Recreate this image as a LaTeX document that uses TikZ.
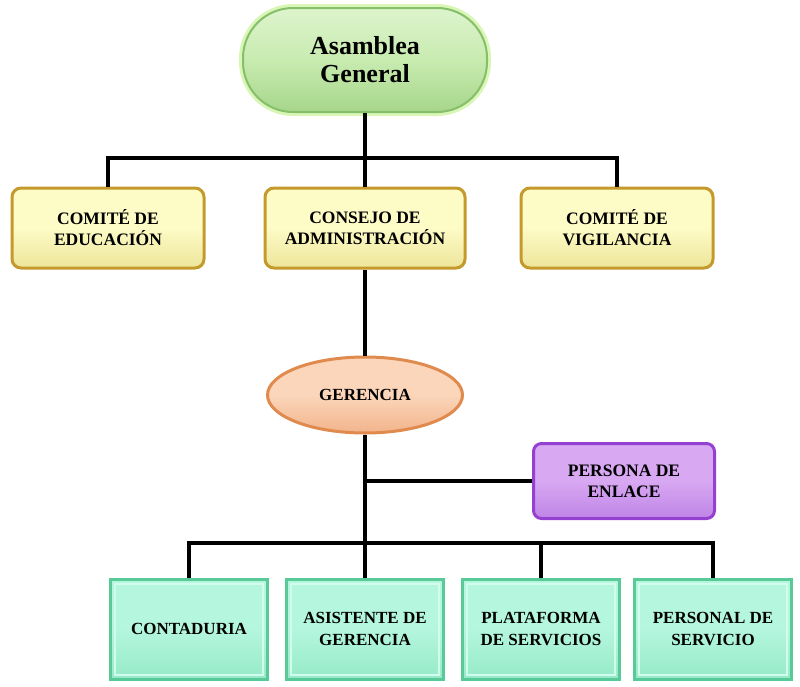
\documentclass[tikz,border=0pt]{standalone}
\usepackage{fontspec}
\setmainfont{Liberation Serif}
\usetikzlibrary{shapes.geometric,calc}
\definecolor{agfill}{HTML}{C8EBB0}
\definecolor{agtop}{HTML}{DDF4CC}
\definecolor{agbot}{HTML}{A6D68A}
\definecolor{agline}{HTML}{86BF6A}
\definecolor{agglow}{HTML}{D9F6B6}
\definecolor{ylfill}{HTML}{FDFBC6}
\definecolor{ylbot}{HTML}{EDE59A}
\definecolor{ylline}{HTML}{C49A2C}
\definecolor{orfill}{HTML}{FBD6BA}
\definecolor{orbot}{HTML}{F2B48C}
\definecolor{orline}{HTML}{E08A4E}
\definecolor{pufill}{HTML}{D8A8F2}
\definecolor{pubot}{HTML}{BE84E6}
\definecolor{puline}{HTML}{9440D0}
\definecolor{gnfill}{HTML}{B4F6DE}
\definecolor{gnbot}{HTML}{96EAC8}
\definecolor{gnline}{HTML}{58CA98}
\definecolor{gnbevel}{HTML}{D2FCEC}
\tikzset{
  conn/.style={line width=4pt, black},
  agbox/.style={draw=agline, line width=2pt, rounded corners=50pt,
    top color=agtop, bottom color=agbot, middle color=agfill,
    minimum width=244pt, minimum height=104pt, align=center,
    font=\fontsize{26}{28}\selectfont\bfseries,
    preaction={draw=agglow, line width=8pt}},
  ylbox/.style={draw=ylline, line width=3pt, rounded corners=9pt,
    top color=ylfill, bottom color=ylbot, middle color=ylfill,
    minimum height=80pt, align=center,
    font=\fontsize{17.5}{21}\selectfont\bfseries},
  orell/.style={ellipse, draw=orline, line width=3pt,
    top color=orfill, bottom color=orbot, middle color=orfill,
    minimum width=195pt, minimum height=76pt, align=center,
    font=\fontsize{17}{20}\selectfont\bfseries},
  pubox/.style={draw=puline, line width=3pt, rounded corners=8pt,
    top color=pufill, bottom color=pubot, middle color=pufill,
    minimum width=181pt, minimum height=75pt, align=center,
    font=\fontsize{17.5}{21}\selectfont\bfseries},
  gnbox/.style={draw=gnline, line width=3pt,
    top color=gnfill, bottom color=gnbot, middle color=gnfill,
    minimum width=157pt, minimum height=100pt, align=center,
    font=\fontsize{17}{22}\selectfont\bfseries},
  bevel/.style={draw=gnbevel, line width=2pt}
}
\begin{document}
\begin{tikzpicture}[x=1pt,y=-1pt]
\useasboundingbox (0,0) rectangle (800,686);
% top
\node[agbox] (ag) at (365,60) {Asamblea\\General};
% second level
\node[ylbox, minimum width=192pt] (ce) at (108,228) {COMITÉ DE\\EDUCACIÓN};
\node[ylbox, minimum width=200pt] (ca) at (365,228) {CONSEJO DE\\ADMINISTRACIÓN};
\node[ylbox, minimum width=192pt] (cv) at (617,228) {COMITÉ DE\\VIGILANCIA};
% gerencia
\node[orell] (ger) at (365,395) {GERENCIA};
\node[pubox] (pe) at (624,481) {PERSONA DE\\ENLACE};
% bottom
\node[gnbox] (cont) at (189,629) {CONTADURIA};
\node[gnbox] (asis) at (365,629) {ASISTENTE DE\\GERENCIA};
\node[gnbox] (plat) at (541,629) {PLATAFORMA\\DE SERVICIOS};
\node[gnbox] (pers) at (713,629) {PERSONAL DE\\SERVICIO};
\foreach \n in {cont,asis,plat,pers}{
  \draw[bevel] ($(\n.north west)+(6,6)$) rectangle ($(\n.south east)+(-6,-6)$);
}
% connectors
\coordinate (j1) at (365,158);
\coordinate (j2) at (365,481);
\coordinate (j3) at (365,543);
\draw[conn] (ag.south) -- (ca.north);
\draw[conn] (ce.north) |- (j1) -| (cv.north);
\draw[conn] (ca.south) -- (ger.north);
\draw[conn] (ger.south) -- (asis.north);
\draw[conn] (j2) -- (pe.west);
\draw[conn] (cont.north) |- (j3) -| (pers.north);
\draw[conn] (j3) -| (plat.north);
\end{tikzpicture}
\end{document}
